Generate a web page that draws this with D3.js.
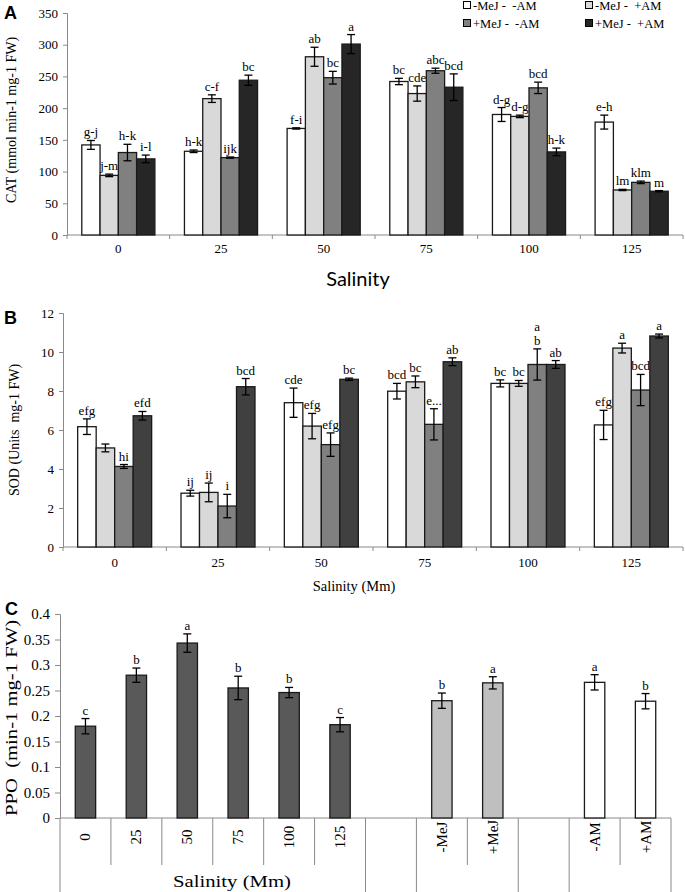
<!DOCTYPE html>
<html><head><meta charset="utf-8">
<script src="https://cdn.jsdelivr.net/npm/d3@7/dist/d3.min.js"></script>
<style>
body{margin:0;background:#fff;}
</style></head>
<body><svg id="c" width="685" height="892" font-family="Liberation Serif, Times New Roman, serif"></svg>
<script>
// ---------- DATA ----------
const salinity = ["0","25","50","75","100","125"];
const seriesNames = ["-MeJ -  -AM","-MeJ -  +AM","+MeJ -  -AM","+MeJ -  +AM"];

// Panel A: CAT
const catValues = [
  [142,94,130,120],
  [132,215,122,244],
  [168,281,248,301],
  [242,223,259,233],
  [190,187,232,131],
  [178,71,83,69]
];
const catErrors = [
  [7,2,13,6],
  [2,6,1,8],
  [1,15,10,15],
  [5,12,4,21],
  [11,2,9,6],
  [11,1,2,1]
];
const catLetters = [
  ["g-j","j-m","h-k","i-l"],
  ["h-k","c-f","ijk","bc"],
  ["f-i","ab","bc","a"],
  ["bc","cde","abc","bcd"],
  ["d-g","d-g","bcd","h-k"],
  ["e-h","lm","klm","m"]
];
const catTicks = [0,50,100,150,200,250,300,350];

// Panel B: SOD
const sodValues = [
  [6.17,5.08,4.13,6.73],
  [2.76,2.80,2.10,8.22],
  [7.40,6.20,5.25,8.60],
  [7.99,8.47,6.29,9.50],
  [8.39,8.39,9.36,9.36],
  [6.26,10.20,8.05,10.82]
];
const sodErrors = [
  [0.40,0.20,0.10,0.22],
  [0.15,0.48,0.60,0.42],
  [0.75,0.65,0.60,0.06],
  [0.40,0.30,0.80,0.20],
  [0.18,0.15,0.80,0.20],
  [0.75,0.25,0.80,0.10]
];
const sodLetters = [
  ["efg","","hi","efd"],
  ["ij","ij","i","bcd"],
  ["cde","efg","efg","bc"],
  ["bcd","bc","e...","ab"],
  ["bc","bc","a b","ab"],
  ["efg","a","bcd","a"]
];
const sodTicks = [0,2,4,6,8,10,12];

// Panel C: PPO
const ppoCategories = ["0","25","50","75","100","125","gap1","-MeJ","+MeJ","gap2","-AM","+AM"];
const ppoLabels = ["0","25","50","75","100","125","","-MeJ","+MeJ","","-AM","+AM"];
const ppoValues = [0.180,0.280,0.343,0.255,0.246,0.183,null,0.230,0.265,null,0.266,0.229];
const ppoErrors = [0.015,0.014,0.018,0.023,0.010,0.014,null,0.015,0.012,null,0.015,0.015];
const ppoLetters = ["c","b","a","b","b","c","","b","a","","a","b"];
const ppoGroup = ["sal","sal","sal","sal","sal","sal","","mej","mej","","am","am"];
const ppoTicks = [0,0.05,0.1,0.15,0.2,0.25,0.3,0.35,0.4];

// ---------- STYLE ----------
const seriesColorsA = ["#ffffff","#d9d9d9","#808080","#262626"];
const seriesColorsB = ["#ffffff","#d9d9d9","#808080","#404040"];
const ppoColors = {sal:"#595959", mej:"#bfbfbf", am:"#ffffff"};
const axisColor = "#8a8a8a";
const serif = "Liberation Serif, Times New Roman, serif";
const sans = "Liberation Sans, Arial, sans-serif";

const svg = d3.select("#c");

function groupedPanel(opt){
  const g = svg.append("g");
  const x0 = d3.scaleBand().domain(salinity).range([opt.left,opt.right]).padding(0);
  const pad = opt.pad;
  const x1 = d3.scaleBand().domain(d3.range(4)).range([x0.bandwidth()*pad, x0.bandwidth()*(1-pad)]).padding(0);
  const y = d3.scaleLinear().domain([0,opt.max]).range([opt.bottom,opt.top]);

  const ya = g.append("g").attr("transform",`translate(${opt.left},0)`)
    .call(d3.axisLeft(y).tickValues(opt.ticks).tickSize(4).tickPadding(5).tickFormat(d3.format("d")));
  ya.attr("font-family",serif);
  ya.select(".domain").attr("stroke",axisColor);
  ya.selectAll(".tick line").attr("stroke",axisColor);
  ya.selectAll(".tick text").attr("font-size",opt.tickFont).attr("fill","#000");

  g.append("line").attr("x1",opt.left).attr("x2",opt.right).attr("y1",y(0)).attr("y2",y(0)).attr("stroke",axisColor);
  const bounds = salinity.map(s=>x0(s)).concat([opt.right]);
  g.selectAll(".bt").data(bounds).enter().append("line")
    .attr("x1",d=>d).attr("x2",d=>d).attr("y1",y(0)).attr("y2",y(0)+4).attr("stroke",axisColor);
  g.selectAll(".cl").data(salinity).enter().append("text")
    .attr("x",d=>x0(d)+x0.bandwidth()/2).attr("y",y(0)+opt.catDy)
    .attr("text-anchor","middle").attr("font-size",opt.tickFont).text(d=>d);

  const groups = g.selectAll(".grp").data(salinity).enter().append("g")
    .attr("transform",d=>`translate(${x0(d)},0)`);
  groups.each(function(s,i){
    const gg = d3.select(this);
    for(let k=0;k<4;k++){
      const v = opt.values[i][k], e = opt.errors[i][k];
      const bx = x1(k), bw = x1.bandwidth(), cx = bx+bw/2;
      gg.append("rect").attr("x",bx).attr("y",y(v)).attr("width",bw).attr("height",y(0)-y(v))
        .attr("fill",opt.colors[k]).attr("stroke","#1a1a1a").attr("stroke-width",1.3);
      gg.append("line").attr("x1",cx).attr("x2",cx).attr("y1",y(v+e)).attr("y2",y(v-e)).attr("stroke","#000").attr("stroke-width",1.3);
      gg.append("line").attr("x1",cx-4).attr("x2",cx+4).attr("y1",y(v+e)).attr("y2",y(v+e)).attr("stroke","#000").attr("stroke-width",1.3);
      gg.append("line").attr("x1",cx-4).attr("x2",cx+4).attr("y1",y(v-e)).attr("y2",y(v-e)).attr("stroke","#000").attr("stroke-width",1.3);
      const lab = opt.letters[i][k];
      if(lab){
        const parts = lab.split(" ");
        const t = gg.append("text").attr("text-anchor","middle").attr("font-size",opt.letterFont);
        const yTop = y(v+e)-4 - (parts.length-1)*14;
        parts.forEach((p,j)=>t.append("tspan").attr("x",cx).attr("y",yTop + j*14).text(p));
      }
    }
  });
  return {g,x0,y};
}

// Panel A
groupedPanel({left:67,right:683,top:13,bottom:235,max:350,ticks:catTicks,
  values:catValues,errors:catErrors,letters:catLetters,colors:seriesColorsA,pad:0.144,
  tickFont:13,letterFont:13,catDy:18});
svg.append("text").attr("x",4).attr("y",19).attr("font-family",sans).attr("font-weight","bold").attr("font-size",18).text("A");
svg.append("text").attr("transform","translate(16,120) rotate(-90)").attr("text-anchor","middle").attr("font-size",14).text("CAT (mmol min-1 mg-1 FW)");
svg.append("text").attr("x",358).attr("y",286).attr("text-anchor","middle").attr("font-family","Lato, 'Open Sans', sans-serif").attr("font-size",20).text("Salinity");

// legend
const legX = [467,589], legY = [5,23];
seriesNames.forEach((n,k)=>{
  const lx = legX[k%2], ly = legY[Math.floor(k/2)];
  svg.append("rect").attr("x",lx-3.5).attr("y",ly-3.5).attr("width",7).attr("height",7)
    .attr("fill",seriesColorsA[k]).attr("stroke","#000").attr("stroke-width",1);
  svg.append("text").attr("x",lx+6).attr("y",ly+4.5).attr("font-size",12.5).attr("xml:space","preserve").text(n);
});

// Panel B
groupedPanel({left:63,right:683,top:313,bottom:547,max:12,ticks:sodTicks,
  values:sodValues,errors:sodErrors,letters:sodLetters,colors:seriesColorsB,pad:0.142,
  tickFont:13,letterFont:13,catDy:20});
svg.append("text").attr("x",4).attr("y",324).attr("font-family",sans).attr("font-weight","bold").attr("font-size",18).text("B");
svg.append("text").attr("transform","translate(19,430) rotate(-90)").attr("text-anchor","middle").attr("font-size",14).attr("xml:space","preserve").text("SOD (Units  mg-1 FW)");
svg.append("text").attr("x",354).attr("y",591).attr("text-anchor","middle").attr("font-size",14.5).text("Salinity (Mm)");

// Panel C
(function(){
  const left=60, right=671, top=614, bottom=818;
  const g = svg.append("g");
  const x = d3.scaleBand().domain(ppoCategories).range([left,right]).padding(0);
  const y = d3.scaleLinear().domain([0,0.4]).range([bottom,top]);
  const ya = g.append("g").attr("transform",`translate(${left},0)`)
    .call(d3.axisLeft(y).tickValues(ppoTicks).tickSize(5).tickPadding(5).tickFormat(d=>String(+d.toFixed(2))));
  ya.attr("font-family",serif);
  ya.select(".domain").attr("stroke",axisColor);
  ya.selectAll(".tick line").attr("stroke",axisColor);
  ya.selectAll(".tick text").attr("font-size",15).attr("fill","#000");
  g.append("line").attr("x1",left).attr("x2",left).attr("y1",bottom).attr("y2",892).attr("stroke",axisColor);
  g.append("line").attr("x1",left).attr("x2",right).attr("y1",bottom).attr("y2",bottom).attr("stroke",axisColor);
  ppoCategories.forEach((c,i)=>{
    const xr = x(c)+x.bandwidth();
    const next = ppoGroup[i+1];
    const long = (i===ppoCategories.length-1) || ppoGroup[i]!==next;
    g.append("line").attr("x1",xr).attr("x2",xr).attr("y1",bottom).attr("y2",long?892:865).attr("stroke",axisColor);
  });
  ppoCategories.forEach((c,i)=>{
    if(!ppoLabels[i]) return;
    const cx = x(c)+x.bandwidth()/2;
    g.append("text").attr("transform",`translate(${cx+5},837) rotate(-90)`).attr("text-anchor","middle")
      .attr("font-size",15).text(ppoLabels[i]);
  });
  const bw = x.bandwidth()*0.4;
  ppoCategories.forEach((c,i)=>{
    const v = ppoValues[i]; if(v==null) return;
    const e = ppoErrors[i];
    const cx = x(c)+x.bandwidth()/2;
    g.append("rect").attr("x",cx-bw/2).attr("y",y(v)).attr("width",bw).attr("height",y(0)-y(v))
      .attr("fill",ppoColors[ppoGroup[i]]).attr("stroke","#1a1a1a").attr("stroke-width",1.3);
    g.append("line").attr("x1",cx).attr("x2",cx).attr("y1",y(v+e)).attr("y2",y(v-e)).attr("stroke","#000").attr("stroke-width",1.3);
    [v+e,v-e].forEach(t=>g.append("line").attr("x1",cx-4).attr("x2",cx+4).attr("y1",y(t)).attr("y2",y(t)).attr("stroke","#000").attr("stroke-width",1.3));
    g.append("text").attr("x",cx).attr("y",y(v+e)-4).attr("text-anchor","middle").attr("font-size",13).text(ppoLetters[i]);
  });
  svg.append("text").attr("x",5).attr("y",615).attr("font-family",sans).attr("font-weight","bold").attr("font-size",18).text("C");
  svg.append("text").attr("transform","translate(17,718) rotate(-90)").attr("text-anchor","middle")
    .attr("font-size",16).attr("xml:space","preserve").attr("textLength",196).attr("lengthAdjust","spacingAndGlyphs").text("PPO  (min-1 mg-1 FW)");
  svg.append("text").attr("x",232).attr("y",887).attr("text-anchor","middle").attr("font-size",17)
    .attr("textLength",118).attr("lengthAdjust","spacingAndGlyphs").text("Salinity (Mm)");
})();
</script></body></html>
